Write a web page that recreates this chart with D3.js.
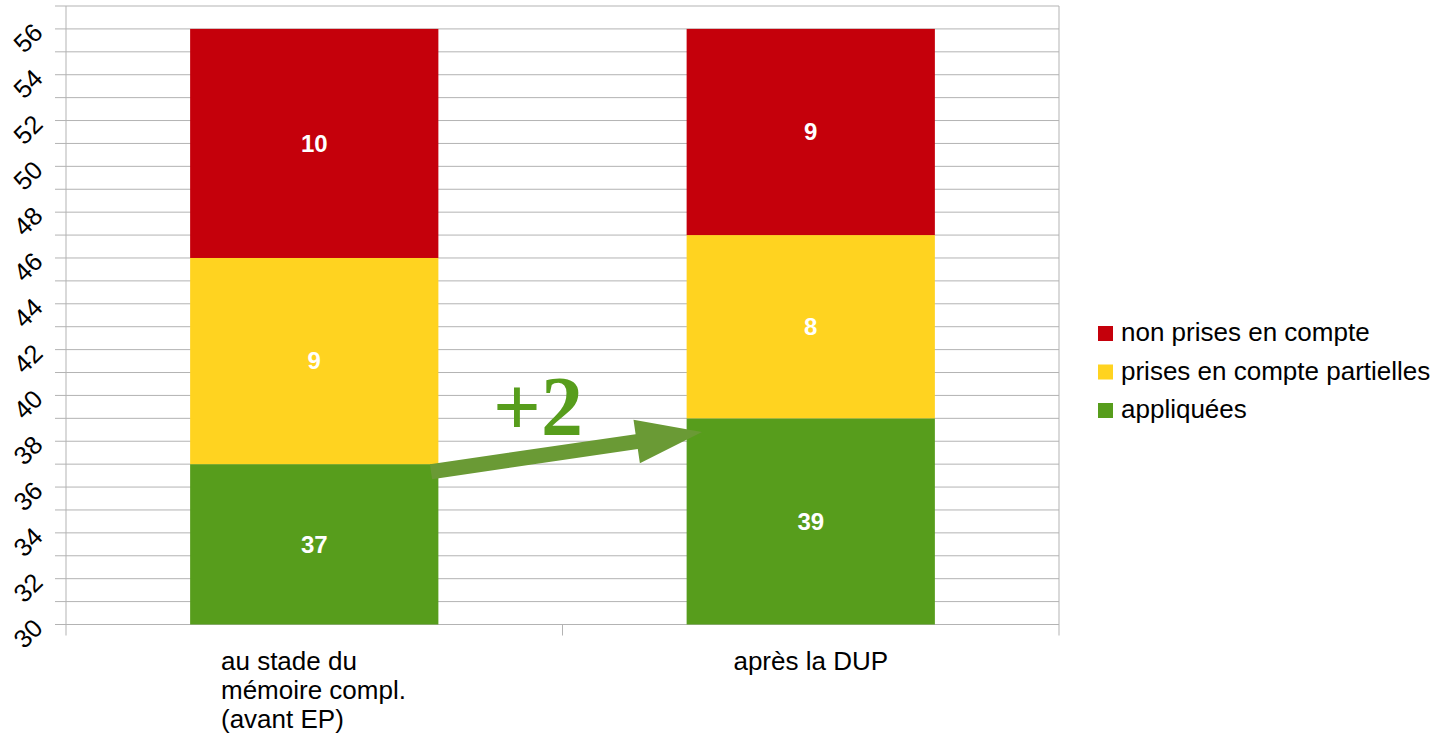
<!DOCTYPE html>
<html><head><meta charset="utf-8">
<script src="https://cdn.jsdelivr.net/npm/d3@7"></script>
<style>body{margin:0;background:#fff}svg{display:block}</style>
</head><body>
<svg id="c" width="1436" height="733" font-family="Liberation Sans, Arial, sans-serif"></svg>
<script>
const categories = [["au stade du","mémoire compl.","(avant EP)"],["après la DUP"]];
const seriesNames = ["appliquées","prises en compte partielles","non prises en compte"];
const appliquees = [37, 39];
const partielles = [9, 8];
const nonPrises = [10, 9];
const yTicks = [30,32,34,36,38,40,42,44,46,48,50,52,54,56];
const colors = ["#579d1c","#ffd320","#c5000b"];

(function(){
const svg = d3.select("#c");
const pL=66, pR=1059, pT=6, pB=624.5;
const FS=26;
const x = d3.scaleBand().domain([0,1]).range([pL,pR]).paddingInner(0).paddingOuter(0);
const y = d3.scaleLinear().domain([30,57]).range([pB,pT]);

const g = svg.append("g");
d3.range(30,58,1).forEach(v=>{
  g.append("line").attr("x1",pL-11).attr("x2",pR).attr("y1",y(v)).attr("y2",y(v))
   .attr("stroke","#b3b3b3").attr("stroke-width",1);
});
g.append("line").attr("x1",pL).attr("x2",pL).attr("y1",pT).attr("y2",pB+11).attr("stroke","#b3b3b3");
g.append("line").attr("x1",pR).attr("x2",pR).attr("y1",pT).attr("y2",pB+11).attr("stroke","#b3b3b3");
g.append("line").attr("x1",x(1)).attr("x2",x(1)).attr("y1",pB).attr("y2",pB+11).attr("stroke","#b3b3b3");

yTicks.forEach(v=>{
  svg.append("text").attr("transform",`translate(28,${y(v)+9}) rotate(-45)`)
    .attr("text-anchor","middle").attr("dy","0.35em").attr("font-size",25.5).attr("fill","#000").text(v);
});

const data = [0,1].map(i=>({i, s:[appliquees[i],partielles[i],nonPrises[i]]}));
const bw = x.bandwidth()*0.5;
data.forEach(d=>{
  let base=0;
  d.s.forEach((v,k)=>{
    const y0=base, y1=base+v; base=y1;
    const lo=Math.max(y0,30);
    const cx=x(d.i)+x.bandwidth()/2;
    svg.append("rect").attr("x",cx-bw/2).attr("width",bw)
      .attr("y",y(y1)).attr("height",y(lo)-y(y1)).attr("fill",colors[k]);
    svg.append("text").attr("x",cx).attr("y",y((lo+y1)/2)).attr("dy","0.35em")
      .attr("text-anchor","middle").attr("font-weight","bold").attr("font-size",24)
      .attr("fill","#fff").text(v);
  });
});

categories.forEach((lines,i)=>{
  const cx=x(i)+x.bandwidth()/2;
  const t=svg.append("text").attr("font-size",FS).attr("fill","#000");
  if(lines.length>1){
    t.attr("text-anchor","start");
    lines.forEach((l,j)=>t.append("tspan").attr("x",221).attr("y",669.5+29*j).text(l));
  } else {
    t.attr("text-anchor","middle").attr("x",cx).attr("y",669.5).text(lines[0]);
  }
});

const ax0=431, ay0=y(36.8)+3, ax1=702, ay1=432;
const ang=Math.atan2(ay1-ay0,ax1-ax0);
const len=Math.hypot(ax1-ax0,ay1-ay0);
const hw=7.5, hl=66, hh=22;
const ar=svg.append("g").attr("transform",`translate(${ax0},${ay0}) rotate(${ang*180/Math.PI})`);
ar.append("path").attr("d",`M0,${-hw}L${len-hl},${-hw}L${len-hl},${-hh}L${len},0L${len-hl},${hh}L${len-hl},${hw}L0,${hw}Z`)
  .attr("fill","#6a9a35");
svg.append("text").attr("x",538).attr("y",435).attr("text-anchor","middle")
  .attr("font-family","Liberation Serif, serif").attr("font-weight","bold").attr("font-size",84)
  .attr("fill","#579d1c").text("+2");

const leg=[["non prises en compte",colors[2]],["prises en compte partielles",colors[1]],["appliquées",colors[0]]];
leg.forEach((l,j)=>{
  const by=341+38.5*j;
  svg.append("rect").attr("x",1098).attr("y",by-15).attr("width",15).attr("height",15).attr("fill",l[1]);
  svg.append("text").attr("x",1121).attr("y",by).attr("font-size",FS).attr("fill","#000").text(l[0]);
});
})();
</script>
</body></html>
